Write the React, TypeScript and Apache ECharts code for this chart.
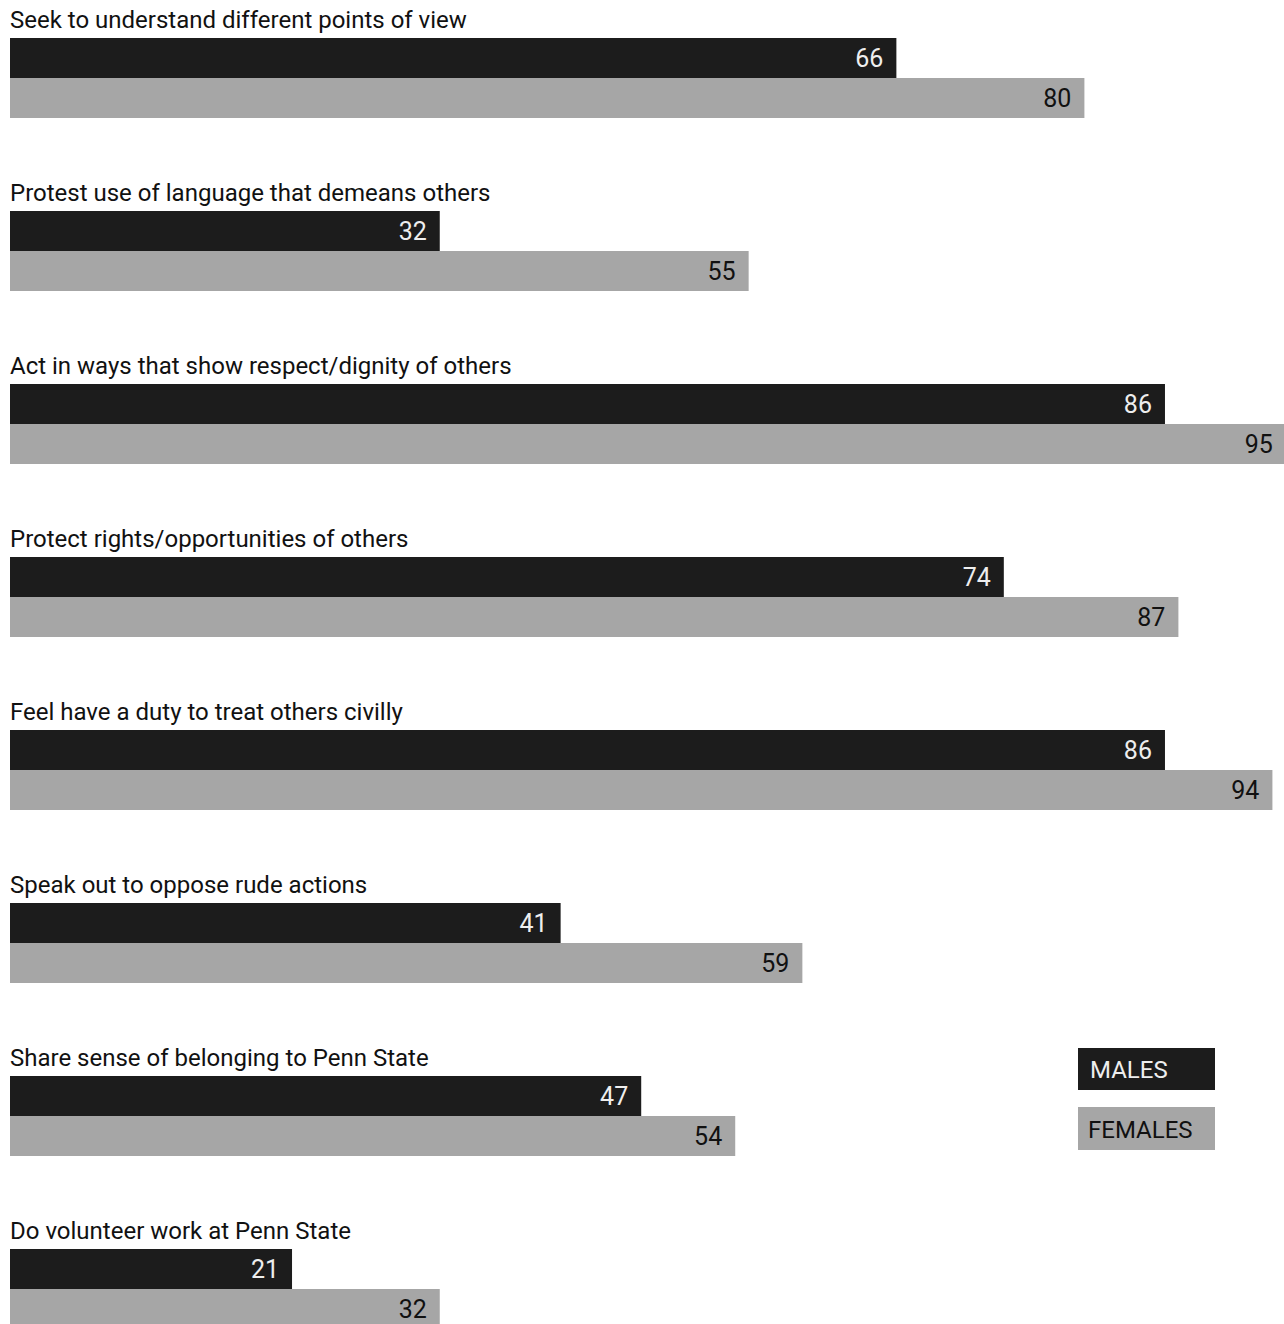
import React, { useEffect, useRef } from "react";
import * as echarts from "echarts";

const categories = [
  "Seek to understand different points of view",
  "Protest use of language that demeans others",
  "Act in ways that show respect/dignity of others",
  "Protect rights/opportunities of others",
  "Feel have a duty to treat others civilly",
  "Speak out to oppose rude actions",
  "Share sense of belonging to Penn State",
  "Do volunteer work at Penn State",
];
const males = [66, 32, 86, 74, 86, 41, 47, 21];
const females = [80, 55, 95, 87, 94, 59, 54, 32];
const seriesNames = ["MALES", "FEMALES"];

const FONT = "Roboto, 'Liberation Sans', sans-serif";
const DARK = "#1c1c1c";
const GRAY = "#a6a6a6";

export default function App() {
  const ref = useRef<HTMLDivElement>(null);
  useEffect(() => {
    if (!ref.current) return;
    const chart = echarts.init(ref.current, null, { renderer: "svg" });
    chart.setOption({
      animation: false,
      backgroundColor: "#ffffff",
      grid: { left: 10, top: -8.5, width: 1343, height: 1384, outerBoundsMode: "none", containLabel: false },
      xAxis: {
        type: "value",
        min: 0,
        max: 100,
        show: false,
      },
      yAxis: {
        type: "category",
        data: categories,
        inverse: true,
        axisLine: { show: false },
        axisTick: { show: false },
        splitLine: { show: false },
        axisLabel: {
          inside: true,
          margin: 0,
          align: "left",
          verticalAlign: "bottom",
          padding: [0, 0, 46, 0],
          fontFamily: FONT,
          fontSize: 24,
          color: "#111111",
        },
      },
      series: [
        {
          name: seriesNames[0],
          type: "bar",
          data: males,
          barWidth: 40,
          barGap: "0%",
          itemStyle: { color: DARK },
          label: {
            show: true,
            position: "insideRight",
            distance: 13,
            fontFamily: FONT,
            fontSize: 25,
            color: "#eeeeee",
          },
        },
        {
          name: seriesNames[1],
          type: "bar",
          data: females,
          barWidth: 40,
          barGap: "0%",
          itemStyle: { color: GRAY },
          label: {
            show: true,
            position: "insideRight",
            distance: 13,
            fontFamily: FONT,
            fontSize: 25,
            color: "#111111",
          },
        },
      ],
      graphic: [
        {
          type: "group",
          left: 1078,
          top: 1048,
          children: [
            { type: "rect", shape: { x: 0, y: 0, width: 137, height: 42 }, style: { fill: DARK } },
            {
              type: "text",
              x: 12,
              y: 22,
              style: { text: seriesNames[0], fill: "#eeeeee", font: `24px ${FONT}`, verticalAlign: "middle" },
            },
            { type: "rect", shape: { x: 0, y: 59, width: 137, height: 43 }, style: { fill: GRAY } },
            {
              type: "text",
              x: 10,
              y: 82,
              style: { text: seriesNames[1], fill: "#111111", font: `24px ${FONT}`, verticalAlign: "middle" },
            },
          ],
        },
      ],
    });
    return () => chart.dispose();
  }, []);
  return <div ref={ref} style={{ position: "fixed", left: 0, top: 0, width: 1284, height: 1324 }} />;
}
